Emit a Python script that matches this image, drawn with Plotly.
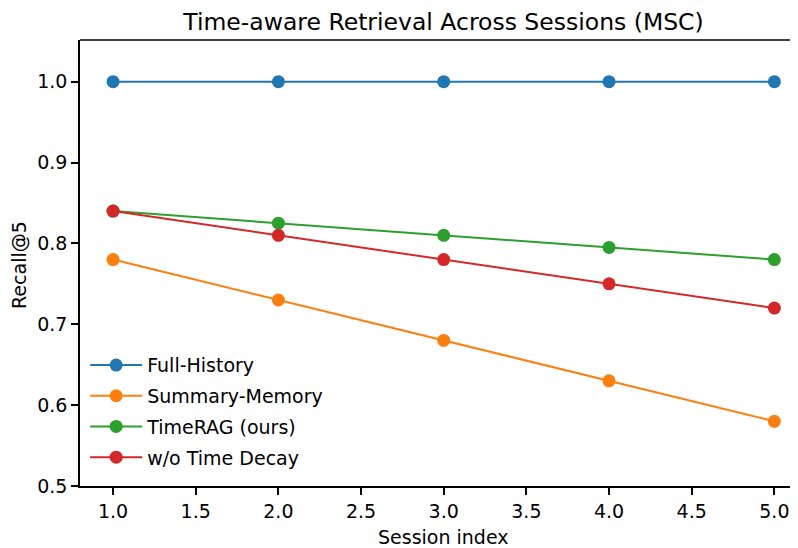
import plotly.graph_objects as go

sessions = [1, 2, 3, 4, 5]
full_history = [1.0, 1.0, 1.0, 1.0, 1.0]
summary_memory = [0.78, 0.73, 0.68, 0.63, 0.58]
timerag = [0.84, 0.825, 0.81, 0.795, 0.78]
wo_time_decay = [0.84, 0.81, 0.78, 0.75, 0.72]

x_ticks = [1, 1.5, 2, 2.5, 3, 3.5, 4, 4.5, 5]
x_ticktext = ["1.0", "1.5", "2.0", "2.5", "3.0", "3.5", "4.0", "4.5", "5.0"]
y_ticks = [0.5, 0.6, 0.7, 0.8, 0.9, 1.0]
y_ticktext = ["0.5", "0.6", "0.7", "0.8", "0.9", "1.0"]

series = [
    ("Full-History", full_history, "#1f77b4"),
    ("Summary-Memory", summary_memory, "#ff7f0e"),
    ("TimeRAG (ours)", timerag, "#2ca02c"),
    ("w/o Time Decay", wo_time_decay, "#d62728"),
]

font = "DejaVu Sans, sans-serif"
W, H = 790, 540
fig = go.Figure()
for i, (name, vals, color) in enumerate(series):
    fig.add_trace(go.Scatter(
        x=sessions, y=vals, mode="lines+markers", name=name,
        legendgroup=f"g{i}",
        line=dict(color=color, width=2),
        marker=dict(color=color, size=13),
    ))

axis_common = dict(showgrid=False, zeroline=False, showline=True, linecolor="black", linewidth=1.5,
                   ticks="outside", ticklen=7, tickwidth=1.5, tickcolor="black",
                   tickfont=dict(size=19, color="black"))

fig.update_layout(
    width=W, height=H,
    margin=dict(l=72, r=0, t=32, b=62),
    plot_bgcolor="white", paper_bgcolor="white",
    font=dict(family=font, size=19, color="black"),
    title=dict(text="Time-aware Retrieval Across Sessions (MSC)", xref="container", x=435.5 / W,
               xanchor="center", yref="container", y=1 - 14 / H, yanchor="middle",
               font=dict(size=23.5, color="black")),
    showlegend=True,
    legend=dict(x=0.0072, y=0.3135, xanchor="left", yanchor="top",
                bgcolor="rgba(255,255,255,0)", font=dict(size=19, color="black"),
                tracegroupgap=3, itemwidth=52),
    xaxis=dict(range=[0.8, 5.143], tickvals=x_ticks, ticktext=x_ticktext, **axis_common),
    yaxis=dict(range=[0.5, 1.0515], tickvals=y_ticks, ticktext=y_ticktext, **axis_common),
    shapes=[dict(type="line", xref="paper", yref="paper", x0=0, x1=1, y0=1, y1=1,
                 line=dict(color="black", width=1.5))],
    annotations=[
        dict(text="Session index", xref="paper", yref="paper", x=(435.5 - 72) / (W - 72),
             y=-(529 - 478) / (478 - 32), xanchor="center", yanchor="middle", showarrow=False,
             font=dict(size=19, color="black")),
        dict(text="Recall@5", xref="paper", yref="paper", x=-(72 - 11) / (W - 72),
             y=(478 - 257) / (478 - 32), xanchor="center", yanchor="middle", showarrow=False,
             textangle=-90, font=dict(size=19, color="black")),
    ],
)

fig.write_html("out.html")
